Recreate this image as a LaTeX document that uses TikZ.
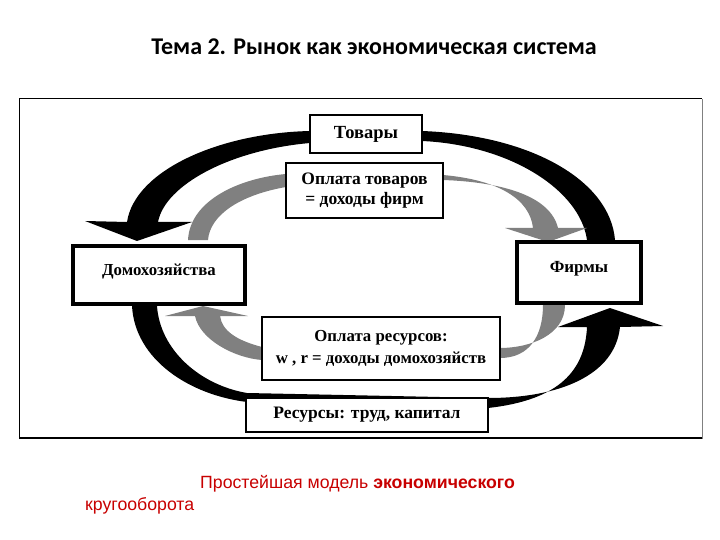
\documentclass[tikz,border=0pt]{standalone}
\usepackage{fontspec}
\setmainfont{Liberation Serif}
\newfontfamily\titlefont{Carlito}
\newfontfamily\capfont{Liberation Sans}
\definecolor{arrowgray}{RGB}{128,128,128}
\definecolor{capred}{RGB}{200,0,0}
\begin{document}
\begin{tikzpicture}[x=1pt,y=-1pt,
  thinbox/.style={draw, line width=1.2pt, fill=white, inner sep=0pt, align=center},
  thickbox/.style={draw, line width=4pt, fill=white, inner sep=0pt, text height=10pt, text depth=10pt},
  darkband/.style={fill=black},
  greyband/.style={fill=arrowgray}]
\useasboundingbox (0,0) rectangle (720,540);
\fill[white] (0,0) rectangle (720,540);

% title
\node[font=\titlefont\bfseries\fontsize{24}{28}\selectfont] (title) at (374,47) {Тема 2. Рынок как экономическая система};

% frame
\draw[line width=1pt] (19,439) -- (19,99) -- (702,99);
\draw[line width=1pt, gray] (702,99) -- (702,439);
\draw[line width=2.5pt] (19,438) -- (702,438);

% top black arrow: firms -> households
\fill[darkband] (587,240) .. controls (580,190) and (510,145) .. (422,141) -- (310,143)
  .. controls (230,150) and (165,185) .. (158,222) -- (192,222) -- (137,241) -- (85,221) -- (127,222)
  .. controls (135,170) and (220,133) .. (310,131) -- (422,131)
  .. controls (530,135) and (610,180) .. (615,240) -- cycle;

% top gray arrow: households -> firms
\fill[greyband] (188,240) .. controls (190,200) and (240,178) .. (286,174) -- (443,175)
  .. controls (500,180) and (530,200) .. (533,228) -- (505,228) -- (548,242) -- (587,228) -- (558,228)
  .. controls (550,195) and (500,182) .. (443,180) -- (286,187)
  .. controls (240,195) and (210,215) .. (208,240) -- cycle;

% bottom gray arrow: firms -> households
\fill[greyband] (565,305) .. controls (565,335) and (530,348) .. (500,348) -- (262,347)
  .. controls (235,340) and (222,330) .. (220,316) -- (248,316) -- (203,306) -- (165,316) -- (195,316)
  .. controls (200,340) and (235,358) .. (262,360) -- (500,358)
  .. controls (530,358) and (543,335) .. (543,305) -- cycle;

% bottom black arrow: households -> firms
\fill[darkband] (132,306) .. controls (135,360) and (190,395) .. (247,402) -- (488,408)
  .. controls (560,400) and (585,370) .. (587,327) -- (558,327) -- (610,308) -- (663,326) -- (620,327)
  .. controls (615,375) and (560,398) .. (488,398) -- (247,393)
  .. controls (200,385) and (160,350) .. (157,306) -- cycle;

% boxes
\node[thinbox, minimum width=112pt, minimum height=38pt, font=\bfseries\fontsize{18.5}{20}\selectfont] (tov) at (366,134) {Товары};
\node[thinbox, minimum width=157pt, minimum height=55pt, font=\bfseries\fontsize{17.5}{20}\selectfont] (optov) at (364.5,190.5) {Оплата товаров\\= доходы фирм};
\node[thickbox, minimum width=172pt, minimum height=58pt, font=\bfseries\fontsize{16.8}{20}\selectfont] (dom) at (159,275) {Домохозяйства};
\node[thickbox, minimum width=124pt, minimum height=61pt, font=\bfseries\fontsize{17}{20}\selectfont] (firm) at (579,272.5) {Фирмы};
\node[thinbox, minimum width=238pt, minimum height=63pt, font=\bfseries\fontsize{16.8}{22}\selectfont] (opres) at (381,348.5) {Оплата ресурсов:\\w , r = доходы домохозяйств};
\node[thinbox, line width=1.6pt, minimum width=242pt, minimum height=34pt, font=\bfseries\fontsize{17.5}{20}\selectfont] (res) at (367,415) {Ресурсы: труд, капитал};

% caption
\node[anchor=west, inner sep=0pt, text=capred, font=\capfont\fontsize{17.7}{22}\selectfont] (cap1) at (200,484) {Простейшая модель \textbf{экономического}};
\node[anchor=west, inner sep=0pt, text=capred, font=\capfont\fontsize{17.7}{22}\selectfont] (cap2) at (85,506) {кругооборота};
\end{tikzpicture}
\end{document}
